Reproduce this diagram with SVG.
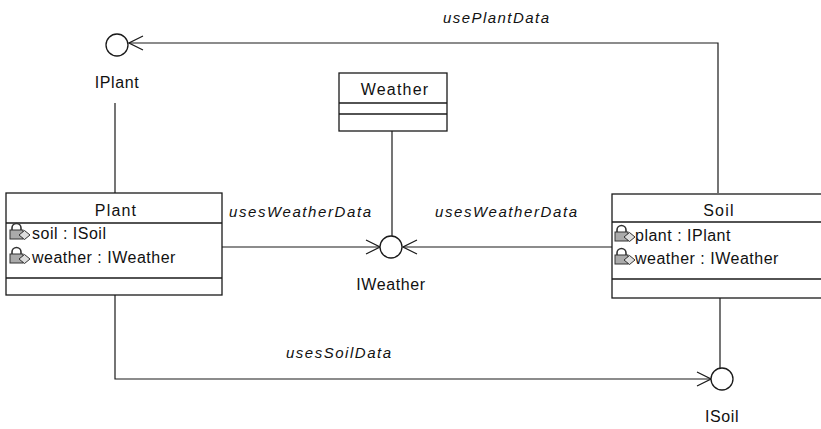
<svg xmlns="http://www.w3.org/2000/svg" xmlns:xlink="http://www.w3.org/1999/xlink" width="821" height="429" viewBox="0 0 821 429">
<style>
  .box { fill: #ffffff; stroke: #1a1a1a; stroke-width: 1.3; }
  .div { stroke: #1a1a1a; stroke-width: 1.3; }
  .iface { fill: #ffffff; stroke: #1a1a1a; stroke-width: 1.3; }
  .conn { fill: none; stroke: #1a1a1a; stroke-width: 1.2; }
  .title { font-family: "Liberation Sans", Arial, sans-serif; font-size: 16px; fill: #111; letter-spacing: 1.2px; }
  .attr { font-family: "Liberation Sans", Arial, sans-serif; font-size: 16px; fill: #111; letter-spacing: 0.5px; }
  .lbl { font-family: "Liberation Sans", Arial, sans-serif; font-size: 16px; fill: #111; letter-spacing: 0.6px; }
  .ital { font-family: "Liberation Sans", Arial, sans-serif; font-size: 15px; font-style: italic; fill: #111; }
</style>
<defs>
  <marker id="open" markerUnits="userSpaceOnUse" markerWidth="16" markerHeight="16" viewBox="0 0 16 16" refX="15" refY="8" orient="auto">
    <path d="M1,1 L15,8 L1,15" fill="none" stroke="#1a1a1a" stroke-width="1.2"/>
  </marker>
  <g id="attrIcon">
    <path d="M3,8 L3,5 A4.5,4.5 0 0 1 12,5 L12,8" fill="none" stroke="#333" stroke-width="1.6"/>
    <rect x="1" y="7" width="13" height="9" fill="#aaa" stroke="#333" stroke-width="1"/>
    <path d="M10,12 L15.5,7.5 L21,12 L15.5,16.5 Z" fill="#ddd" stroke="#333" stroke-width="1"/>
  </g>
</defs>

<g id="connectors">
  <line class="conn" x1="115" y1="103" x2="115" y2="193"/>
  <polyline class="conn" points="718,193 718,43 129,43" marker-end="url(#open)"/>
  <line class="conn" x1="392" y1="131" x2="392" y2="236"/>
  <line class="conn" x1="222" y1="247" x2="380" y2="247" marker-end="url(#open)"/>
  <line class="conn" x1="612" y1="247" x2="403" y2="247" marker-end="url(#open)"/>
  <polyline class="conn" points="115,295 115,379 711,379" marker-end="url(#open)"/>
  <line class="conn" x1="720" y1="298" x2="720" y2="368"/>
  <text class="ital" x="443" y="23" textLength="106" lengthAdjust="spacing">usePlantData</text>
  <text class="ital" x="229" y="217" textLength="142" lengthAdjust="spacing">usesWeatherData</text>
  <text class="ital" x="435" y="217" textLength="142" lengthAdjust="spacing">usesWeatherData</text>
  <text class="ital" x="286" y="358" textLength="105" lengthAdjust="spacing">usesSoilData</text>
</g>

<g id="IPlant">
  <circle class="iface" cx="117" cy="45" r="11"/>
  <text class="lbl" x="117" y="88" text-anchor="middle">IPlant</text>
</g>

<g id="Weather">
  <rect class="box" x="339" y="73" width="108" height="58"/>
  <line class="div" x1="339" y1="103" x2="447" y2="103"/>
  <line class="div" x1="339" y1="114" x2="447" y2="114"/>
  <text class="title" x="395" y="95" text-anchor="middle">Weather</text>
</g>

<g id="IWeather">
  <circle class="iface" cx="391" cy="247" r="11"/>
  <text class="lbl" x="391" y="290" text-anchor="middle">IWeather</text>
</g>

<g id="Plant">
  <rect class="box" x="6" y="193" width="216" height="102"/>
  <line class="div" x1="6" y1="223" x2="222" y2="223"/>
  <line class="div" x1="6" y1="278" x2="222" y2="278"/>
  <text class="title" x="116" y="216" text-anchor="middle">Plant</text>
  <use xlink:href="#attrIcon" x="9" y="223"/>
  <text class="attr" x="32" y="239">soil : ISoil</text>
  <use xlink:href="#attrIcon" x="9" y="247"/>
  <text class="attr" x="32" y="263">weather : IWeather</text>
</g>

<g id="Soil">
  <rect class="box" x="612" y="194" width="212" height="104"/>
  <line class="div" x1="612" y1="222" x2="824" y2="222"/>
  <line class="div" x1="612" y1="279" x2="824" y2="279"/>
  <text class="title" x="719" y="216" text-anchor="middle">Soil</text>
  <use xlink:href="#attrIcon" x="614" y="225"/>
  <text class="attr" x="635" y="241">plant : IPlant</text>
  <use xlink:href="#attrIcon" x="614" y="248"/>
  <text class="attr" x="635" y="264">weather : IWeather</text>
</g>

<g id="ISoil">
  <circle class="iface" cx="722" cy="379" r="11"/>
  <text class="lbl" x="722" y="422" text-anchor="middle">ISoil</text>
</g>
</svg>
